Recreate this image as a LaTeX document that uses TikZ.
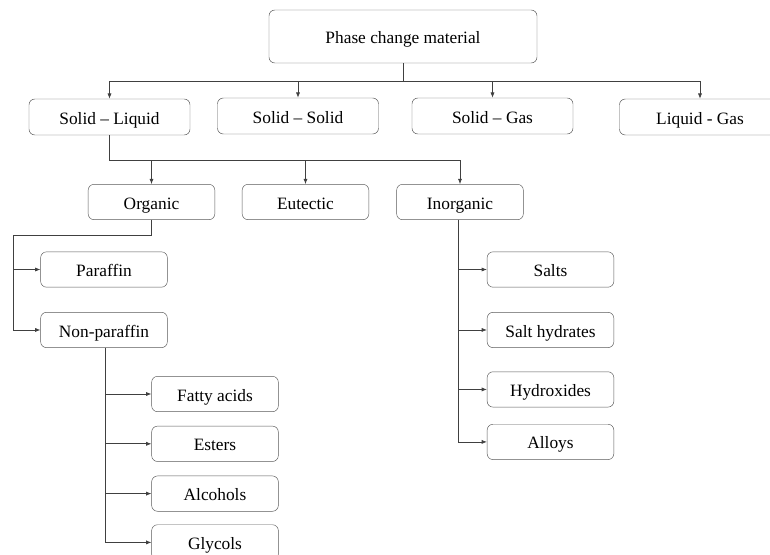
\documentclass[tikz,border=0pt]{standalone}
\usepackage{fontspec}
\setmainfont{Liberation Serif}
\usepackage{tikz}
\usetikzlibrary{arrows.meta,positioning}

\begin{document}
\begin{tikzpicture}[
    x=0.03cm, y=-0.03cm,
    box/.style={rectangle, draw=black!65, rounded corners=5pt, minimum width=4.83cm, minimum height=1.08cm, inner sep=0pt, align=center, text height=12pt, text depth=0pt, font=\fontsize{14.8}{17}\selectfont},
    subbox/.style={box, minimum width=3.8cm, minimum height=1.06cm},
    link/.style={draw=black!75, line width=0.6pt},
    arr/.style={link, -{Latex[length=4.5pt,width=3.5pt]}}
]
\useasboundingbox (0,0) rectangle (770,555);
\clip (0,0) rectangle (770,555);

% root
\node[box, minimum width=8.04cm, minimum height=1.59cm] (pcm) at (403,36.5) {Phase change material};

% first level
\node[box] (sl) at (109.5,117) {Solid -- Liquid};
\node[box] (ss) at (298,116) {Solid -- Solid};
\node[box] (sg) at (492.5,116) {Solid -- Gas};
\node[box] (lg) at (700,117) {Liquid - Gas};

% solid-liquid groups
\node[subbox] (org) at (151.5,202) {Organic};
\node[subbox] (eut) at (305.5,202) {Eutectic};
\node[subbox] (inorg) at (460,202) {Inorganic};

% organic
\node[subbox] (par) at (104,269.5) {Paraffin};
\node[subbox, below=0.74cm of par] (npar) {Non-paraffin};

\node[subbox] (fatty) at (215,394) {Fatty acids};
\node[subbox, below=0.42cm of fatty] (ester) {Esters};
\node[subbox, below=0.42cm of ester] (alc) {Alcohols};
\node[subbox, below=0.39cm of alc] (gly) {Glycols};

% inorganic
\node[subbox] (salt) at (550.5,269.5) {Salts};
\node[subbox, below=0.74cm of salt] (hyd) {Salt hydrates};
\node[subbox, below=0.71cm of hyd] (hydrox) {Hydroxides};
\node[subbox, below=0.5cm of hydrox] (alloy) {Alloys};

% connectors
\coordinate (bus1) at (403,81);
\foreach \n in {sl,ss,sg,lg}
    \draw[arr] (pcm.south) -- (bus1) -| (\n.north);

\coordinate (bus2) at (109.5,160);
\foreach \n in {org,eut,inorg}
    \draw[arr] (sl.south) -- (bus2) -| (\n.north);

\coordinate (orgturn) at (151.5,235);
\coordinate (orgleft) at (13,235);
\foreach \n in {par,npar}
    \draw[arr] (org.south) -- (orgturn) -- (orgleft) |- (\n.west);

\foreach \n in {fatty,ester,alc,gly}
    \draw[arr] ([xshift=1]npar.south) |- (\n.west);

\foreach \n in {salt,hyd,hydrox,alloy}
    \draw[arr] ([xshift=-1]inorg.south) |- (\n.west);

\end{tikzpicture}
\end{document}
